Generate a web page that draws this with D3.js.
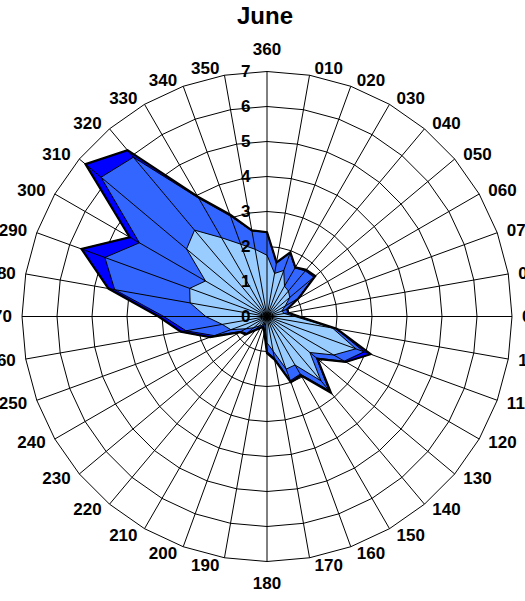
<!DOCTYPE html>
<html>
<head>
<meta charset="utf-8">
<script src="https://cdn.jsdelivr.net/npm/d3@7"></script>
<style>
  html, body { margin: 0; padding: 0; background: #fff; }
  svg { display: block; }
  text { font-family: Arial, "Liberation Sans", sans-serif; font-weight: bold; fill: #000; }
</style>
</head>
<body>
<svg id="chart" width="525" height="601"></svg>
<script>
// Wind directions (degrees) and their printed labels
const directions = d3.range(0, 360, 10);
const directionLabels = ["360","010","020","030","040","050","060","070","080","090",
  "100","110","120","130","140","150","160","170","180","190","200","210","220","230",
  "240","250","260","270","280","290","300","310","320","330","340","350"];
const ringTicks = [0, 1, 2, 3, 4, 5, 6, 7];

// Series values per direction (0, 10, ... 350)
const seriesLight = [1.75,1.25,1.4,1.0,0.95,0.85,0.6,0.45,0.5,0.8,
  1.9,2.7,2.2,1.6,2.4,1.6,1.6,1.0,0.75,0.3,0.2,0.3,0.35,0.5,
  0.7,1.1,1.3,1.75,2.23,2.35,2.03,3.0,3.22,2.6,2.2,1.95];
const seriesMedium = [2.41,1.55,1.93,1.6,1.7,1.75,1.0,0.6,0.6,0.9,
  2.0,2.95,2.55,1.85,2.75,1.9,1.95,1.2,1.0,0.4,0.3,0.35,0.45,0.75,
  0.85,1.6,2.35,2.95,4.42,4.93,4.21,6.19,5.94,3.9,3.05,2.48];
const seriesDark = [2.41,1.57,1.95,1.62,1.74,1.8,1.05,0.62,0.62,0.92,
  2.02,3.15,2.6,1.88,2.84,1.95,2.0,1.25,1.05,0.45,0.32,0.38,0.5,0.8,
  0.89,1.73,2.5,3.1,4.6,5.64,4.53,6.77,6.2,3.95,3.1,2.5];

const svg = d3.select("#chart");
const cx = 267, cy = 316.5, R = 245;
const rScale = d3.scaleLinear().domain([0, 7]).range([0, R]);
const aScale = d3.scaleLinear().domain([0, 360]).range([0, 2 * Math.PI]);

const g = svg.append("g").attr("transform", `translate(${cx},${cy})`);

// Title
svg.append("text")
  .attr("x", 265).attr("y", 23.5)
  .attr("text-anchor", "middle")
  .style("font-size", "24px")
  .text("June");

// Polygonal grid rings
const ringLine = d3.lineRadial()
  .angle(d => aScale(d))
  .curve(d3.curveLinearClosed);
g.selectAll("path.ring")
  .data(ringTicks.filter(t => t > 0))
  .join("path")
  .attr("class", "ring")
  .attr("d", t => ringLine.radius(rScale(t))(directions))
  .attr("fill", "none")
  .attr("stroke", "#000")
  .attr("stroke-width", 1);

// Spokes
const pt = (deg, r) => [r * Math.sin(aScale(deg)), -r * Math.cos(aScale(deg))];
g.selectAll("line.spoke")
  .data(directions)
  .join("line")
  .attr("class", "spoke")
  .attr("x1", 0).attr("y1", 0)
  .attr("x2", d => pt(d, R)[0])
  .attr("y2", d => pt(d, R)[1])
  .attr("stroke", "#000")
  .attr("stroke-width", 1);

// Filled series, outermost first
const seriesLine = values => d3.lineRadial()
  .angle((d, i) => aScale(directions[i]))
  .radius(d => rScale(d))
  .curve(d3.curveLinearClosed)(values);

const layers = [
  { values: seriesDark, fill: "#0000FF" },
  { values: seriesMedium, fill: "#3366FF" },
  { values: seriesLight, fill: "#99CCFF" }
];
g.selectAll("path.series")
  .data(layers)
  .join("path")
  .attr("class", "series")
  .attr("d", d => seriesLine(d.values))
  .attr("fill", d => d.fill)
  .attr("stroke", "#000")
  .attr("stroke-width", 1)
  .attr("stroke-linejoin", "round");

// Radial edges of the filled wedges
g.selectAll("line.wedge")
  .data(directions)
  .join("line")
  .attr("class", "wedge")
  .attr("x1", 0).attr("y1", 0)
  .attr("x2", (d, i) => pt(d, rScale(seriesDark[i]))[0])
  .attr("y2", (d, i) => pt(d, rScale(seriesDark[i]))[1])
  .attr("stroke", "#000")
  .attr("stroke-width", 1);

// Outer outline
g.append("path")
  .attr("d", seriesLine(seriesDark))
  .attr("fill", "none")
  .attr("stroke", "#000")
  .attr("stroke-width", 2.2)
  .attr("stroke-linejoin", "miter");

// Value axis labels
g.selectAll("text.tick")
  .data(ringTicks)
  .join("text")
  .attr("class", "tick")
  .attr("x", -16.5)
  .attr("y", t => -rScale(t))
  .attr("dy", "0.35em")
  .attr("text-anchor", "end")
  .style("font-size", "17px")
  .text(t => t);

// Direction labels
g.selectAll("text.dir")
  .data(directions)
  .join("text")
  .attr("class", "dir")
  .each(function (d, i) {
    const a = aScale(d), s = Math.sin(a), c = Math.cos(a);
    const [ex, ey] = pt(d, R);
    const t = d3.select(this);
    if (Math.abs(s) < 0.01) {
      t.attr("x", ex).attr("y", ey - 22 * c).attr("text-anchor", "middle");
    } else {
      t.attr("x", ex + Math.sign(s) * (4 + 6 * Math.abs(s)))
       .attr("y", ey - 7 * c)
       .attr("text-anchor", s > 0 ? "start" : "end");
    }
    t.attr("dy", "0.35em").text(directionLabels[i]);
  })
  .style("font-size", "17px");
</script>
</body>
</html>
